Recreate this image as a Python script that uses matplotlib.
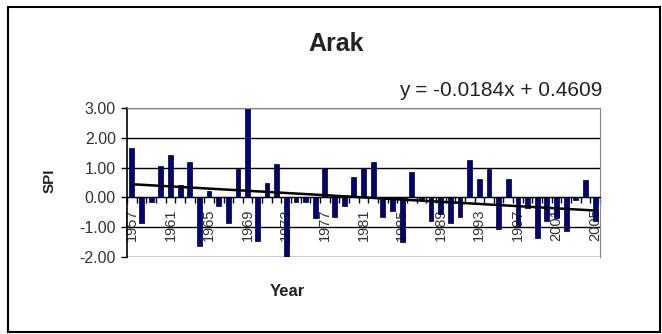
import matplotlib
matplotlib.use("Agg")
import matplotlib.pyplot as plt
import matplotlib.patches as mpatches
import numpy as np

# SPI values for Arak, 1957-2005
years = list(range(1957, 2006))
spi = [
    1.65, -0.85, -0.17, 1.04, 1.41, 0.40, 1.20, -1.63, 0.23, -0.30,
    -0.87, 0.95, 2.98, -1.45, 0.50, 1.13, -2.05, -0.17, -0.17, -0.70,
    0.97, -0.67, -0.30, 0.70, 0.97, 1.20, -0.67, -0.45, -1.50, 0.85,
    -0.05, -0.80, -0.55, -0.87, -0.67, 1.27, 0.63, 0.95, -1.05, 0.63,
    -0.95, -0.35, -1.37, -0.80, -0.70, -1.13, -0.10, 0.57, -0.80,
]
# linear trend shown on the chart
slope = -0.0184
intercept = 0.4609
y_ticks = [3.0, 2.0, 1.0, 0.0, -1.0, -2.0]

BAR_COLOR = "#000080"
TEXT_COLOR = "#333333"

plt.rcParams["font.family"] = ["Liberation Sans", "DejaVu Sans"]

W, H = 662, 334
fig = plt.figure(figsize=(W / 100, H / 100), dpi=100, facecolor="white")

# outer chart frame
fig.patches.append(mpatches.Rectangle(
    (8 / W, 1 - 332 / H), (660 - 8) / W, (332 - 7) / H,
    transform=fig.transFigure, fill=False, edgecolor="black", linewidth=1.5))

ax = fig.add_axes([127 / W, 1 - 257 / H, (600 - 127) / W, (257 - 108) / H])

x = np.arange(1, len(years) + 1)
ax.bar(x, spi, width=0.5, color=BAR_COLOR, edgecolor="black",
       linewidth=0.5, zorder=3)

# trendline
ax.plot(x, slope * x + intercept, color="black", linewidth=1.8, zorder=4)

ax.set_xlim(0.5, len(years) + 0.5)
ax.set_ylim(-2, 3)

# horizontal gridlines
for yv in y_ticks:
    ax.axhline(yv, color="black", linewidth=1.0, zorder=1)

ax.set_yticks(y_ticks)
ax.set_yticklabels([f"{v:.2f}" for v in y_ticks], fontsize=11.5,
                   color=TEXT_COLOR)
ax.tick_params(axis="y", direction="out", length=4, width=1, pad=4)

# category axis sits on zero
ax.spines["bottom"].set_position(("data", 0))
ax.spines["bottom"].set_color("black")
ax.spines["left"].set_color("black")
ax.spines["left"].set_linewidth(1.2)
ax.spines["top"].set_color("#888888")
ax.spines["right"].set_color("#888888")

ax.set_xticks(np.arange(0.5, len(years) + 1, 1.0), minor=True)
ax.set_xticks(x[::4])
ax.set_xticklabels([str(y) for y in years[::4]], rotation=90,
                   fontsize=10.5, color=TEXT_COLOR)
ax.tick_params(axis="x", which="major", length=0, pad=8)
ax.tick_params(axis="x", which="minor", direction="out", length=4, width=1)

fig.text(336 / W, 1 - 44 / H, "Arak", ha="center", va="center",
         fontsize=18, fontweight="bold", color="#222222")
fig.text(602 / W, 1 - 90 / H, f"y = {slope:.4f}x + {intercept:.4f}",
         ha="right", va="center", fontsize=15, color="#222222")
fig.text(50 / W, 1 - 181 / H, "SPI", ha="center", va="center",
         rotation=90, fontsize=11, fontweight="bold", color="#222222")
fig.text(287 / W, 1 - 291 / H, "Year", ha="center", va="center",
         fontsize=12, fontweight="bold", color="#222222")

fig.savefig("out.png", dpi=100, facecolor="white")
